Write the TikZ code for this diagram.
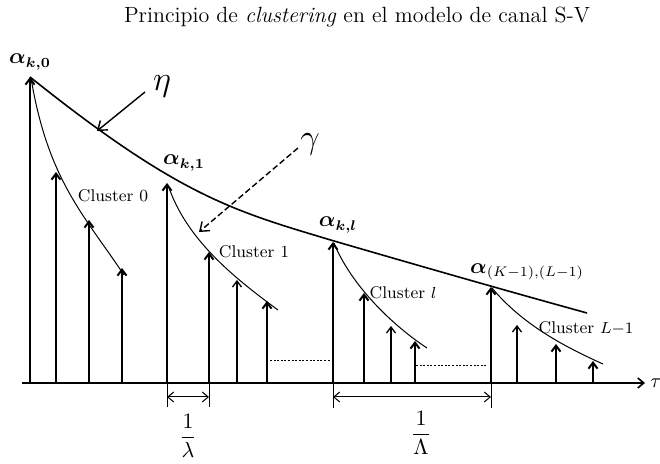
\documentclass[tikz,border=0pt]{standalone}
\usepackage{amsmath}
\usetikzlibrary{arrows.meta}
\begin{document}
\begin{tikzpicture}[x=0.5pt,y=-0.5pt,
  tip/.style={-{Straight Barb[length=3pt,width=4.5pt]}},
  stem/.style={tip, line width=1pt},
  thinstem/.style={tip, line width=0.65pt},
  clcurve/.style={line width=0.5pt},
  envelope/.style={line width=0.8pt},
  lbl/.style={font=\fontsize{8.5}{10}\selectfont, inner sep=0pt},
  greek/.style={font=\LARGE, inner sep=0pt},
  amp/.style={inner sep=0pt, font=\fontsize{10.5}{12}\selectfont},
  dotline/.style={line width=0.5pt, dash pattern=on 1pt off 0.8pt},
  dimline/.style={{Straight Barb[length=3pt,width=5pt]}-{Straight Barb[length=3pt,width=5pt]}, line width=0.5pt},
  tickline/.style={line width=0.5pt},
  pointer/.style={-{Straight Barb[length=4pt,width=6pt]}, line width=0.7pt}
]
\useasboundingbox (0,0) rectangle (660,464);

% title
\node[font=\fontsize{11}{13}\selectfont] (title) at (357,17) {Principio de \textit{clustering} en el modelo de canal S-V};

% axis
\coordinate (o) at (22,383);
\coordinate (axend) at (645,383);
\draw[line width=0.8pt,-{Straight Barb[length=3pt,width=5pt]}] (o) -- (axend);
\node[anchor=west, inner sep=1pt] (tau) at (648,383) {$\tau$};

% stems
\foreach \x/\t in {30/77,56/172,89/220,122/268,
                   167/183,209/252,267/301,
                   333/242,364/293,415/341,
                   491/287,556/344,593/361}{
  \coordinate (b\x) at (\x,383);
  \coordinate (t\x) at (\x,\t);
  \draw[stem] (b\x) -- (t\x);
}
\foreach \x/\t in {237/280,391/326,517/325}{
  \coordinate (b\x) at (\x,383);
  \coordinate (t\x) at (\x,\t);
  \draw[thinstem] (b\x) -- (t\x);
}

% envelope
\draw[envelope] (t30) .. controls (180,197) and (234,211) .. (334,241)
                      .. controls (420,266) and (500,289) .. (587,313);

% cluster curves
\draw[clcurve] (31,78) .. controls (48,180) and (84,215) .. (124,275);
\draw[clcurve] (168,185) .. controls (186,239) and (233,277) .. (278,310);
\draw[clcurve] (334,243) .. controls (351,285) and (392,325) .. (427,348);
\draw[clcurve] (492,288) .. controls (522,324) and (563,346) .. (603,364);

% amplitude labels
\node[amp] (a0) at (30,62) {$\boldsymbol{\alpha}_{\boldsymbol{k,0}}$};
\node[amp] (a1) at (184,163) {$\boldsymbol{\alpha}_{\boldsymbol{k,1}}$};
\node[amp] (al) at (338,225) {$\boldsymbol{\alpha}_{\boldsymbol{k,l}}$};
\node[amp] (aL) at (527,272) {$\boldsymbol{\alpha}_{(K-1),(L-1)}$};

% cluster labels
\node[lbl] (c0) at (113,196) {Cluster 0};
\node[lbl] (c1) at (254,252) {Cluster 1};
\node[lbl] (cl) at (403,293) {Cluster $l$};
\node[lbl] (cL) at (586,328) {Cluster $L{-}1$};

% eta and gamma
\node[greek] (eta) at (162,86) {$\eta$};
\coordinate (etas) at (145,92);
\coordinate (etae) at (97,131);
\draw[pointer] (etas) -- (etae);
\node[greek] (gam) at (310,144) {$\gamma$};
\coordinate (gams) at (298,148);
\coordinate (game) at (199,232);
\draw[pointer, dash pattern=on 3pt off 1.5pt] (gams) -- (game);

% dotted gaps
\coordinate (d1s) at (270,361);
\coordinate (d1e) at (331,361);
\draw[dotline] (d1s) -- (d1e);
\coordinate (d2s) at (416,366);
\coordinate (d2e) at (487,366);
\draw[dotline] (d2s) -- (d2e);

% 1/lambda
\coordinate (k1) at (167,407);
\coordinate (k2) at (209,407);
\draw[tickline] (b167) -- (k1);
\draw[tickline] (b209) -- (k2);
\coordinate (k1m) at (167,397);
\coordinate (k2m) at (209,397);
\draw[dimline] (k1m) -- (k2m);
\node[inner sep=0pt, font=\fontsize{11}{13}\selectfont] (lam) at (188,436) {$\dfrac{1}{\lambda}$};

% 1/Lambda
\coordinate (K1) at (333,408);
\coordinate (K2) at (491,408);
\draw[tickline] (b333) -- (K1);
\draw[tickline] (b491) -- (K2);
\coordinate (K1m) at (333,397);
\coordinate (K2m) at (491,397);
\draw[dimline] (K1m) -- (K2m);
\node[inner sep=0pt, font=\fontsize{11}{13}\selectfont] (Lam) at (421,433) {$\dfrac{1}{\Lambda}$};
\end{tikzpicture}
\end{document}
